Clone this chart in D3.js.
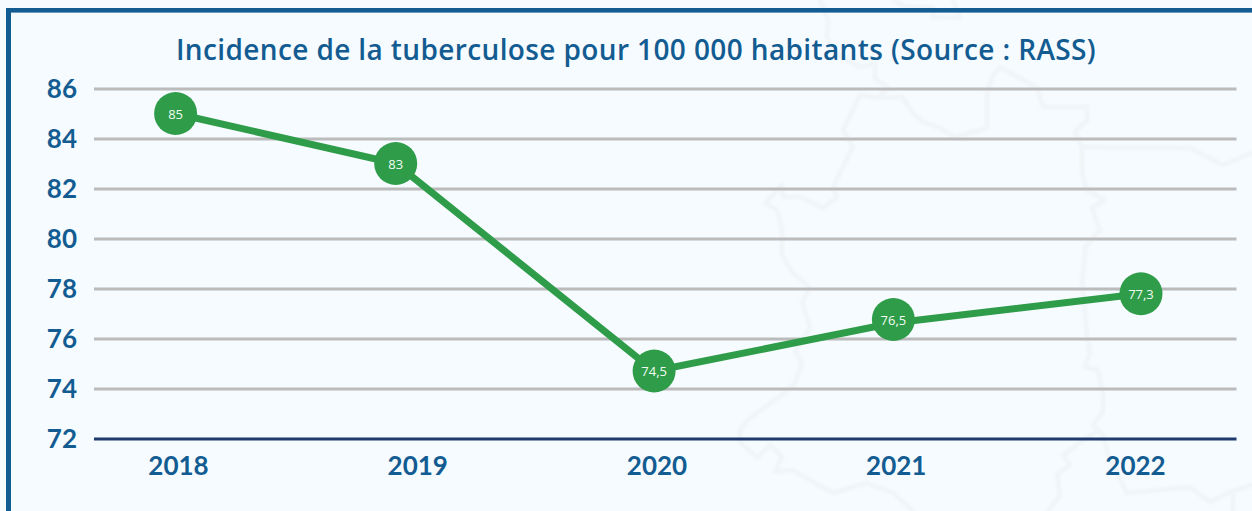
<!DOCTYPE html>
<html lang="fr">
<head>
<meta charset="utf-8">
<script src="https://cdn.jsdelivr.net/npm/d3@7/dist/d3.min.js"></script>
<style>
html,body{margin:0;padding:0;background:#f5fbff;overflow:hidden}
svg{display:block}
text{font-family:Lato,"Noto Sans",sans-serif}
</style>
</head>
<body>
<svg id="chart" width="1252" height="511"></svg>
<script>
const chartTitle = "Incidence de la tuberculose pour 100 000 habitants (Source : RASS)";
const categories = ["2018","2019","2020","2021","2022"];
const yTicks = [72,74,76,78,80,82,84,86];
// Point placement (marks do not sit exactly over their axis labels)
const markYears = [2017.99,2018.91,2019.99,2020.99,2022.025];
const lineValues = [85,83,74.7,76.62,77.79];
const markValues = [85,83,74.7,76.76,77.79];
const markLabels = ["85","83","74,5","76,5","77,3"];

// Faint decorative map outline behind the chart (page coordinates)
const mapBorderEast = [[820,0],[828,20],[827,37],[835,53],[860,67],[875,63],[875,78],[888,88],[878,98],[902,97],[912,112],[923,122],[940,128],[955,137],[987,128],[987,93],[993,75],[1000,67],[1037,88],[1043,107],[1087,107],[1087,120],[1075,132],[1082,147],[1082,173],[1087,190],[1105,200],[1092,208],[1100,230],[1085,247],[1085,255],[1082,282],[1087,335],[1090,352],[1085,367],[1098,370],[1103,395],[1103,412],[1093,425],[1103,435],[1108,455],[1127,493],[1190,487],[1210,502],[1230,492],[1252,485]];
const mapBorderNorthEast = [[1082,147],[1190,148],[1223,165],[1252,153]];
const mapBorderSouth = [[1098,430],[1063,455],[1070,465],[1057,475],[1060,495],[1048,511]];
const mapBorderSouthEast = [[1233,495],[1233,511]];
const mapBorderWest = [[878,98],[860,95],[843,130],[853,147],[833,187],[837,197],[823,208],[800,197],[783,197],[782,185],[765,203],[777,210],[782,230],[782,255],[792,272],[810,288],[802,302],[810,327],[795,352],[802,362],[795,383],[782,395],[750,418],[740,430],[740,442],[757,458],[770,445],[782,457],[775,472],[792,470],[833,493],[867,483],[893,493],[913,511]];
const mapBorderTop = [[893,0],[905,7],[933,7],[933,17],[960,18],[953,0]];
const mapOutlines = [mapBorderEast,mapBorderNorthEast,mapBorderSouth,mapBorderSouthEast,mapBorderWest,mapBorderTop];

const blue = "#135c92", green = "#2e9c48";
const svg = d3.select("#chart");

const x = d3.scaleLinear().domain([2018,2022]).range([178,1135]);
const y = d3.scaleLinear().domain([72,86]).range([438.5,88.5]);
const left = 94, right = 1236.5;

// map
const defs = svg.append("defs");
defs.append("filter").attr("id","soft").append("feGaussianBlur").attr("stdDeviation",0.8);
const mapLine = d3.line().curve(d3.curveLinear);
svg.append("g").attr("filter","url(#soft)").selectAll("path").data(mapOutlines).join("path")
  .attr("d", mapLine).attr("fill","none").attr("stroke","#f0f5f8")
  .attr("stroke-width",5).attr("stroke-linejoin","round").attr("stroke-linecap","round");

// frame
svg.append("rect").attr("x",6).attr("y",8).attr("width",1246).attr("height",4.6).attr("fill",blue);
svg.append("rect").attr("x",6).attr("y",8).attr("width",5).attr("height",503).attr("fill",blue);

// title
svg.append("text").attr("x",636).attr("y",60).attr("text-anchor","middle")
  .attr("font-size",28).attr("font-weight",600).attr("fill",blue).attr("letter-spacing","0.38px")
  .style("font-family","'Open Sans'").text(chartTitle);

// y axis with gridlines
const gy = svg.append("g").attr("transform",`translate(${left},0)`)
  .call(d3.axisLeft(y).tickValues(yTicks).tickSize(-(right-left)).tickPadding(17).tickFormat(d3.format("d")));
gy.select(".domain").remove();
gy.selectAll("line").attr("stroke-width",3).attr("stroke",d=>d===72?"#1e3a6e":"#bbbbbb");
gy.selectAll("text").attr("font-size",26).attr("font-weight",700).attr("fill",blue).style("font-family","Lato").attr("dy","0.33em");

// x axis labels
const gx = svg.append("g").attr("transform","translate(0,438.5)")
  .call(d3.axisBottom(x).tickValues(categories.map(Number)).tickSize(0).tickPadding(18).tickFormat((d,i)=>categories[i]));
gx.select(".domain").remove();
gx.selectAll("text").attr("font-size",26).attr("font-weight",700).attr("fill",blue).style("font-family","Lato");

// line + markers
const points = markYears.map((yr,i)=>({yr,v:markValues[i],lv:lineValues[i],label:markLabels[i]}));
svg.append("path").datum(points)
  .attr("d",d3.line().x(d=>x(d.yr)).y(d=>y(d.lv)))
  .attr("fill","none").attr("stroke",green).attr("stroke-width",7);
svg.append("g").selectAll("circle").data(points).join("circle")
  .attr("cx",d=>x(d.yr)).attr("cy",d=>y(d.v)).attr("r",21.5).attr("fill",green);
svg.append("g").selectAll("text").data(points).join("text")
  .attr("x",d=>x(d.yr)).attr("y",d=>y(d.v)+0.5).attr("dy","0.35em").attr("text-anchor","middle")
  .attr("font-size",13).attr("font-weight",500).attr("fill","#f2fbf4").style("font-family","'Open Sans'").text(d=>d.label);
</script>
</body>
</html>
